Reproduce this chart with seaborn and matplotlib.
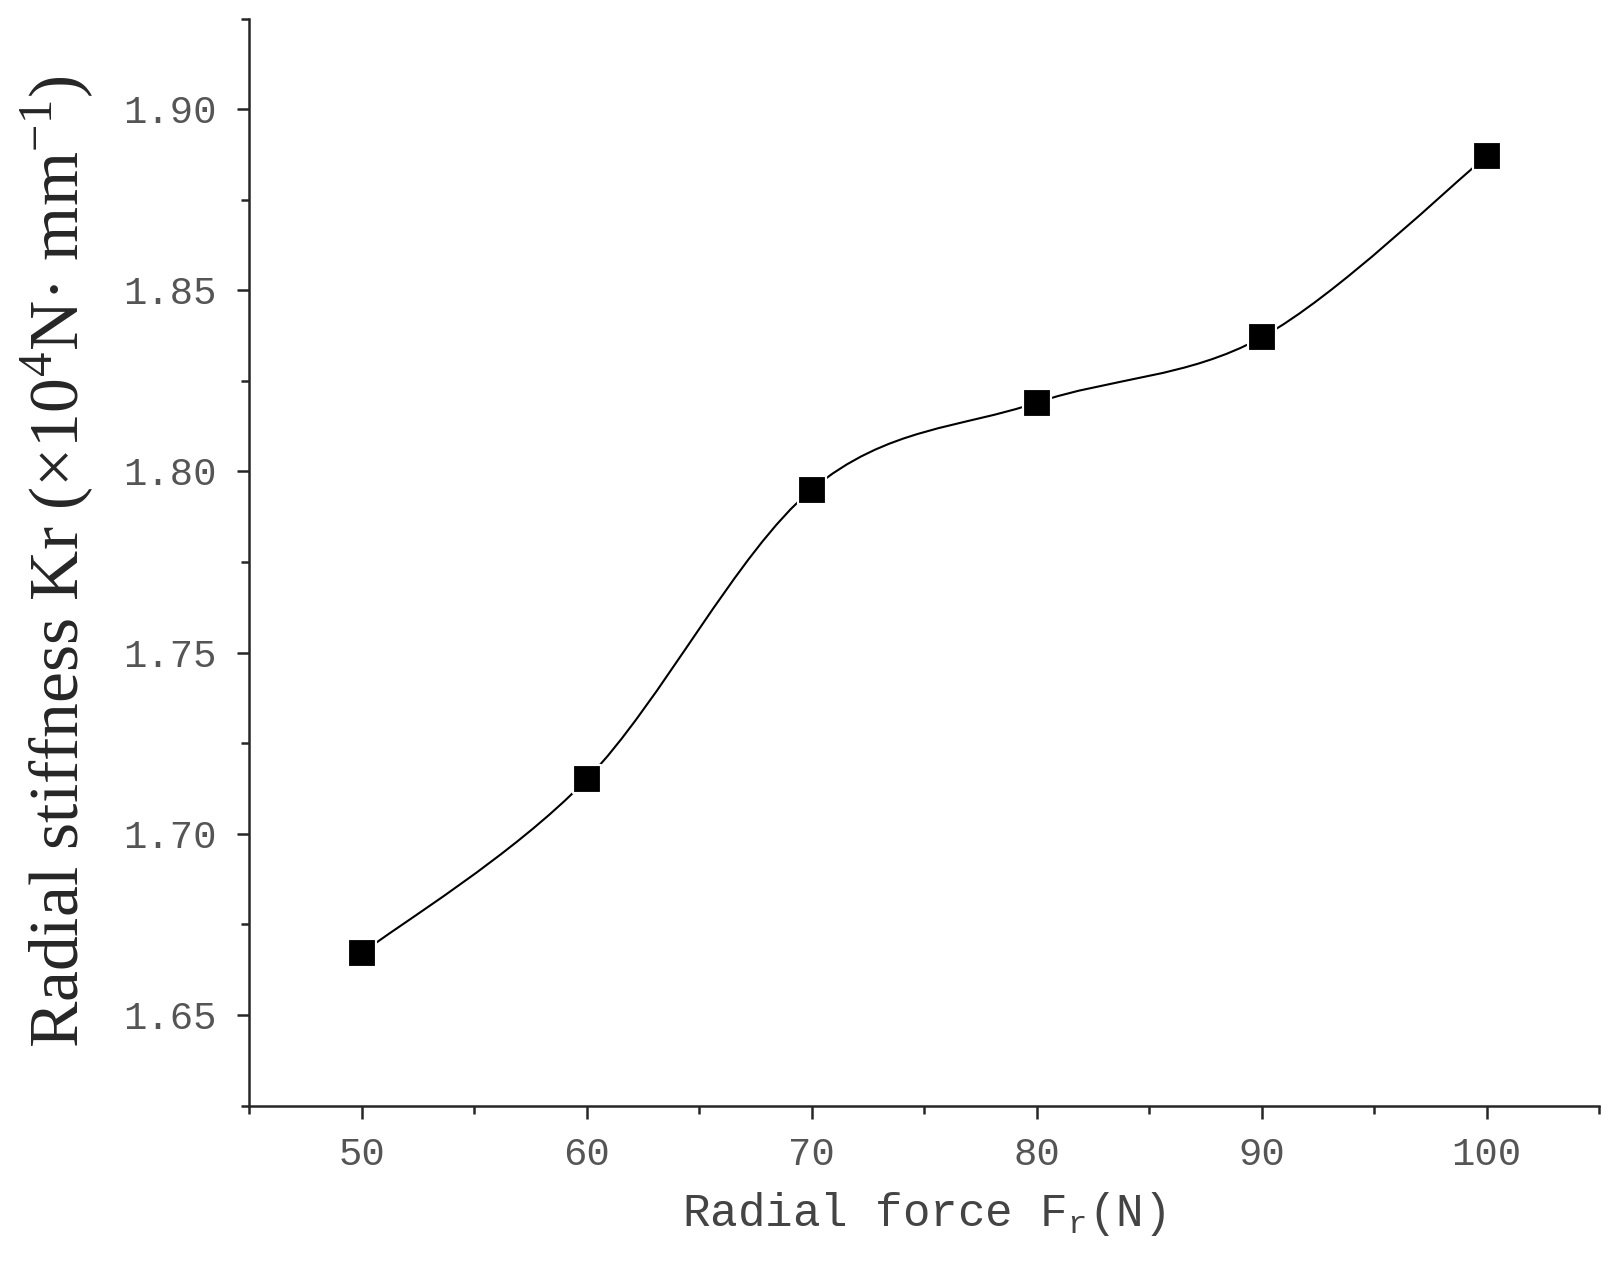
import numpy as np
import matplotlib
matplotlib.use("Agg")
import matplotlib.pyplot as plt
import seaborn as sns
from matplotlib.path import Path
from matplotlib.patches import PathPatch
from matplotlib.ticker import MultipleLocator

force = [50, 60, 70, 80, 90, 100]
stiffness = [1.667, 1.715, 1.795, 1.819, 1.837, 1.887]

sns.set_style("ticks")
fig = plt.figure(figsize=(16.12, 12.84), dpi=100)
ax = fig.add_axes([0.1545, 0.139, 0.8375, 0.8465])

# smooth connecting curve (Catmull-Rom as Bezier path through the data points)
x = np.array(force, float); y = np.array(stiffness, float)
verts = [(x[0], y[0])]; codes = [Path.MOVETO]
for i in range(len(x) - 1):
    p0 = (x[i-1], y[i-1]) if i > 0 else (x[i], y[i])
    p3 = (x[i+2], y[i+2]) if i + 2 < len(x) else (x[i+1], y[i+1])
    c1 = (x[i] + (x[i+1]-p0[0])/6, y[i] + (y[i+1]-p0[1])/6)
    c2 = (x[i+1] - (p3[0]-x[i])/6, y[i+1] - (p3[1]-y[i])/6)
    verts += [c1, c2, (x[i+1], y[i+1])]; codes += [Path.CURVE4]*3
ax.add_patch(PathPatch(Path(verts, codes), fill=False, color="black", lw=1.5))

sns.scatterplot(x=force, y=stiffness, marker="s", s=380, color="black", ax=ax, zorder=3)

ax.set_xlim(45, 105)
ax.set_ylim(1.625, 1.925)
ax.set_xticks(force)
ax.set_yticks([1.65, 1.70, 1.75, 1.80, 1.85, 1.90])
ax.xaxis.set_minor_locator(MultipleLocator(5))
ax.yaxis.set_minor_locator(MultipleLocator(0.025))
sns.despine(ax=ax)
for s in ["left", "bottom"]:
    ax.spines[s].set_linewidth(1.8)
ax.tick_params(which="major", length=9, width=1.8, direction="out", pad=14)
ax.tick_params(which="minor", length=6, width=1.8, direction="out")
ax.set_yticklabels(["1.65", "1.70", "1.75", "1.80", "1.85", "1.90"])
for lbl in ax.get_xticklabels() + ax.get_yticklabels():
    lbl.set_fontfamily("Liberation Mono"); lbl.set_fontsize(28); lbl.set_color("#555555")
ax.set_xlabel(r"Radial force F$_\mathregular{r}$(N)", fontfamily="Liberation Mono",
              fontsize=33, color="#444444", labelpad=12)
ax.set_ylabel(r"Radial stiffness Kr (×10$^\mathregular{4}$N· mm$^\mathregular{-1}$)",
              fontfamily="Liberation Serif", fontsize=50, labelpad=20)
fig.savefig("out.png", dpi=100)
